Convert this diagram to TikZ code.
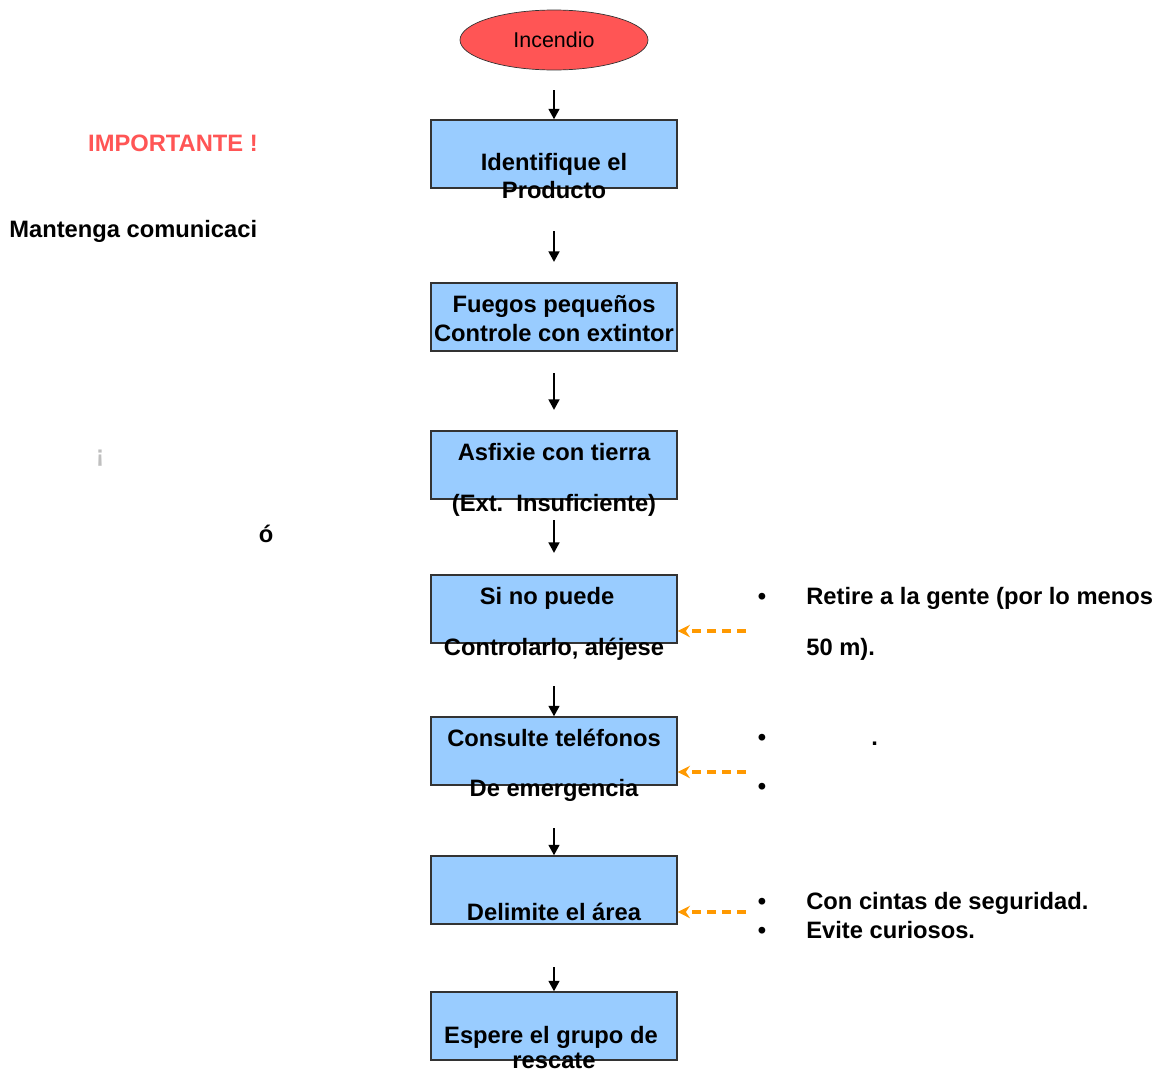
\documentclass[tikz,border=0pt]{standalone}
\usepackage{fontspec}
\setmainfont{Liberation Sans}
\usetikzlibrary{arrows.meta,shapes.geometric}

\definecolor{rojo}{HTML}{FF5555}
\definecolor{celeste}{HTML}{99CCFF}
\definecolor{naranja}{HTML}{FF9900}

\begin{document}
\begin{tikzpicture}[x=0.02cm, y=-0.02cm,
    caja/.style={draw=black!80, fill=celeste, line width=0.7pt,
      minimum width=4.92cm, minimum height=1.36cm, inner sep=0pt},
    texto/.style={font=\fontsize{13.5}{16}\selectfont\bfseries, anchor=base, inner sep=0pt},
    flecha/.style={-{Triangle[length=6pt,width=6pt]}, line width=1.5pt},
    aviso/.style={-{Stealth[length=7pt,width=7pt]}, draw=naranja, line width=2pt,
      dash pattern=on 5pt off 3.5pt}]

  \useasboundingbox (0,0) rectangle (1164,1072);

  % Inicio
  \node[ellipse, draw=black!80, fill=rojo, minimum width=3.76cm, minimum height=1.2cm,
    inner sep=0pt, font=\fontsize{12.2}{14}\selectfont] (inc) at (554,40) {Incendio};

  % Cajas
  \node[caja] (b1) at (554,154) {};
  \node[caja] (b2) at (554,317) {};
  \node[caja] (b3) at (554,465) {};
  \node[caja] (b4) at (554,609) {};
  \node[caja] (b5) at (554,751) {};
  \node[caja] (b6) at (554,890) {};
  \node[caja] (b7) at (554,1026) {};

  \node[texto] (t1a) at (554,170) {Identifique el};
  \node[texto] (t1b) at (554,198) {Producto};
  \node[texto] (t2a) at (554,312) {Fuegos pequeños};
  \node[texto] (t2b) at (554,341) {Controle con extintor};
  \node[texto] (t3a) at (554,460) {Asfixie con tierra};
  \node[texto] (t3b) at (554,511) {(Ext.\ \ Insuficiente)};
  \node[texto] (t4a) at (547,604) {Si no puede};
  \node[texto] (t4b) at (554,655) {Controlarlo, aléjese};
  \node[texto] (t5a) at (554,746) {Consulte teléfonos};
  \node[texto] (t5b) at (554,796) {De emergencia};
  \node[texto] (t6)  at (554,920) {Delimite el área};
  \node[texto] (t7a) at (551,1043) {Espere el grupo de};
  \node[texto] (t7b) at (554,1068) {rescate};

  % Flechas
  \coordinate (s1) at (554,90);
  \coordinate (s2) at (554,231);
  \coordinate (e2) at (554,262);
  \coordinate (s3) at (554,373);
  \coordinate (e3) at (554,410);
  \coordinate (s4) at (554,520);
  \coordinate (e4) at (554,553);
  \coordinate (s5) at (554,686);
  \coordinate (s6) at (554,828);
  \coordinate (s7) at (554,967);

  \draw[flecha] (s1) -- (b1.north);
  \draw[flecha] (s2) -- (e2);
  \draw[flecha] (s3) -- (e3);
  \draw[flecha] (s4) -- (e4);
  \draw[flecha] (s5) -- (b5.north);
  \draw[flecha] (s6) -- (b6.north);
  \draw[flecha] (s7) -- (b7.north);

  % Notas a la derecha
  \coordinate (o4) at (746,631);
  \coordinate (o5) at (746,772);
  \coordinate (o6) at (746,912);

  \draw[aviso] (o4) -- (b4.east |- o4);
  \draw[aviso] (o5) -- (b5.east |- o5);
  \draw[aviso] (o6) -- (b6.east |- o6);

  \node[texto] (p1) at (762,604) {•};
  \node[texto] (p2) at (762,745) {•};
  \node[texto] (p3) at (762,794) {•};
  \node[texto] (p4) at (762,909) {•};
  \node[texto] (p5) at (762,938) {•};

  \node[texto, anchor=base west] (n1a) at (806,604) {Retire a la gente (por lo menos};
  \node[texto, anchor=base west] (n1b) at (806,655) {50 m).};
  \node[texto, anchor=base west] (n2)  at (871,745) {.};
  \node[texto, anchor=base west] (n3a) at (806,909) {Con cintas de seguridad.};
  \node[texto, anchor=base west] (n3b) at (806,938) {Evite curiosos.};

  % Notas a la izquierda
  \node[texto, text=rojo] (imp) at (173,151) {IMPORTANTE !};
  \node[texto, anchor=base west] (com) at (9,237) {Mantenga comunicaci};
  \node[texto, text=black!25] (exc) at (100,462) {¡};
  \node[texto] (acc) at (266,542) {ó};

\end{tikzpicture}
\end{document}
